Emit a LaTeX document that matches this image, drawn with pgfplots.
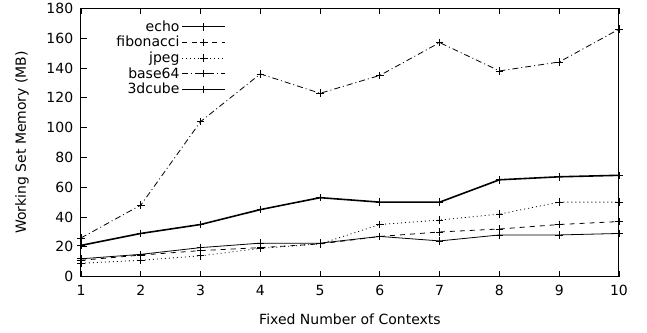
\documentclass[border=0pt]{standalone}
\usepackage{fontspec}
\setmainfont{DejaVu Sans}
\usepackage{pgfplots}
\pgfplotsset{compat=1.18}
\pgfplotstableread{
x echo fib jpeg base cube
1 12 11 9 26 21
2 15 14.5 11 48 29
3 19.5 17.5 14 104 35
4 22.5 19.5 19 136 45
5 22.5 22 22 123 53
6 27 27 35 135 50
7 24 30 38 157 50
8 28 32 42 138 65
9 28 35 50 144 67
10 29 37 50 166 68
}\datatable
\begin{document}
\begin{tikzpicture}[font=\fontsize{14}{16}\selectfont]
\begin{axis}[
  scale only axis, width=538pt, height=268.4pt,
  xmin=1, xmax=10, ymin=0, ymax=180,
  xtick={1,...,10}, ytick={0,20,...,180},
  tick align=inside, major tick length=6pt,
  xtick pos=both, ytick pos=left,
  axis line style={line width=1pt},
  tick style={line width=0.8pt, black},
  /pgf/number format/assume math mode=true,
  yticklabel style={xshift=-4.3pt},
  xticklabel style={yshift=-5pt},
  xlabel={Fixed Number of Contexts},
  xlabel style={at={(axis description cs:0.5,-0.16)}, anchor=center},
  ylabel={Working Set Memory (MB)},
  ylabel style={at={(axis description cs:-0.1097,0.5)}, anchor=center, rotate=0},
  legend style={draw=none, fill=none, at={(axis description cs:0.27,0.962)}, anchor=north east,
    row sep=-0.5pt, inner sep=0pt, font=\fontsize{14}{16}\selectfont},
  legend cell align=right,
  legend plot pos=right,
  legend image code/.code={\draw[#1, mark repeat=2, mark phase=2] plot coordinates {(0pt,0pt) (21.5pt,0pt) (43pt,0pt)};},
  every axis plot/.append style={black, mark=+, mark size=3.8pt, mark options={solid, line width=0.8pt}},
]
\addplot[line width=0.8pt] table[x=x,y=echo] {\datatable};
\addlegendentry{echo}
\addplot[line width=0.8pt, dash pattern=on 5pt off 5pt] table[x=x,y=fib] {\datatable};
\addlegendentry{fibonacci}
\addplot[line width=0.8pt, dash pattern=on 1pt off 3pt] table[x=x,y=jpeg] {\datatable};
\addlegendentry{jpeg}
\addplot[line width=0.8pt, dash pattern=on 6pt off 3pt on 1pt off 3pt] table[x=x,y=base] {\datatable};
\addlegendentry{base64}
\addplot[line width=1.6pt] table[x=x,y=cube] {\datatable};
\addlegendentry{3dcube}
\end{axis}
\pgfresetboundingbox
\path[use as bounding box] (current axis.south west) ++(-81pt,-55.3pt) rectangle ++(647pt,332pt);
\end{tikzpicture}
\end{document}
